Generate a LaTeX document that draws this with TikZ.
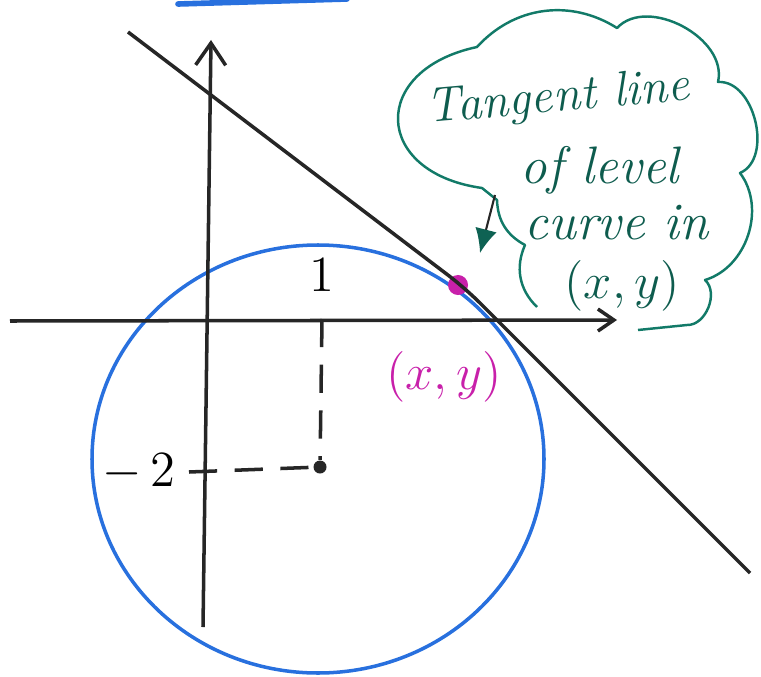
\documentclass[tikz,border=0pt]{standalone}
\usepackage{amsmath,amssymb}
\usepackage{tikz}
\usetikzlibrary{arrows.meta,positioning,calc}
\definecolor{tinta}{RGB}{38,38,38}
\definecolor{kekszin}{RGB}{40,112,222}
\definecolor{zoldszin}{RGB}{18,122,104}
\definecolor{lilaszin}{RGB}{200,32,170}
\tikzset{
  tengely/.style={draw=tinta,line width=1pt,-{Straight Barb[length=2.2mm,width=3mm]}},
  kor/.style={draw=kekszin,line width=1pt},
  kozep/.style={circle,fill=tinta,inner sep=0pt,minimum size=1.3mm},
  jelolo/.style={circle,fill=lilaszin,inner sep=0pt,minimum size=2mm},
  szagg/.style={draw=tinta,line width=1pt,dash pattern=on 8pt off 5pt},
  erinto/.style={draw=tinta,line width=1pt,rounded corners=6pt},
  felho/.style={draw=zoldszin,line width=0.7pt,line join=round},
  sor/.style={anchor=base west,inner sep=0pt,text=zoldszin!75!black,font=\itshape\fontsize{15}{18}\selectfont},
  mutato/.style={draw=tinta,line width=0.6pt,-{Latex[length=2.4mm,width=2.2mm,color=zoldszin!80!black]}},
}

\begin{document}
\begin{tikzpicture}[x=0.01cm,y=-0.01cm,font=\Large]
  \useasboundingbox (0,0) rectangle (761,676);
  \coordinate (kek1) at (178,4); \coordinate (kek2) at (347,-1);
  \draw[kekszin,line width=1.6pt,line cap=round] (kek1) -- (kek2);
  \draw[kor] (318,459) ellipse [x radius=226,y radius=214];
  \coordinate (xbal) at (10,321); \coordinate (xjobb) at (617,320);
  \coordinate (ylent) at (203,627); \coordinate (yfent) at (211,40);
  \draw[tengely,-{Straight Barb[length=1.6mm,width=2.2mm]}] (xbal) -- (xjobb);
  \draw[tengely] (ylent) -- (yfent);
  \node[kozep] (kp) at (320,467) {};
  \coordinate (xjel) at (322,319); \coordinate (yjel) at (189,472);
  \draw[szagg] (xjel) -- (kp);
  \draw[szagg] (yjel) -- (kp);
  \node (egy) at (322,275) {$1$};
  \node (ketto) at (139,472) {$-\,2$};
  \node[jelolo] (p) at (458,285) {};
  \coordinate (ekezd) at (128,32); \coordinate (etor) at (465,288); \coordinate (evege) at (750,573);
  \draw[erinto] (ekezd) -- (etor) -- (evege);
  \node[text=lilaszin,font=\fontsize{15}{18}\selectfont] (pcimke) at (444,377) {$(x,y)$};
  \draw[felho] (537,307) to[bend left=35] (525,245) to[bend left=30] (497,200) -- (482,188)
    to[bend left=80,looseness=2] (477,47) to[bend left=40] (617,28)
    to[bend left=75] (718,82) to[bend left=80] (740,173) to[bend left=55] (705,280)
    to[bend left=70] (687,325) -- (638,330);
  \node[sor,rotate=5,font=\itshape\fontsize{14}{17}\selectfont] (sor1) at (427,123) {Tangent line};
  \node[sor] (sor2) at (520,183) {of level};
  \node[sor] (sor3) at (524,239) {curve in};
  \node[sor] (sor4) at (564,298) {$(x,y)$};
  \coordinate (mtalp) at (495,195); \coordinate (mhegy) at (480,253);
  \draw[mutato] (mtalp) -- (mhegy);
\end{tikzpicture}
\end{document}
